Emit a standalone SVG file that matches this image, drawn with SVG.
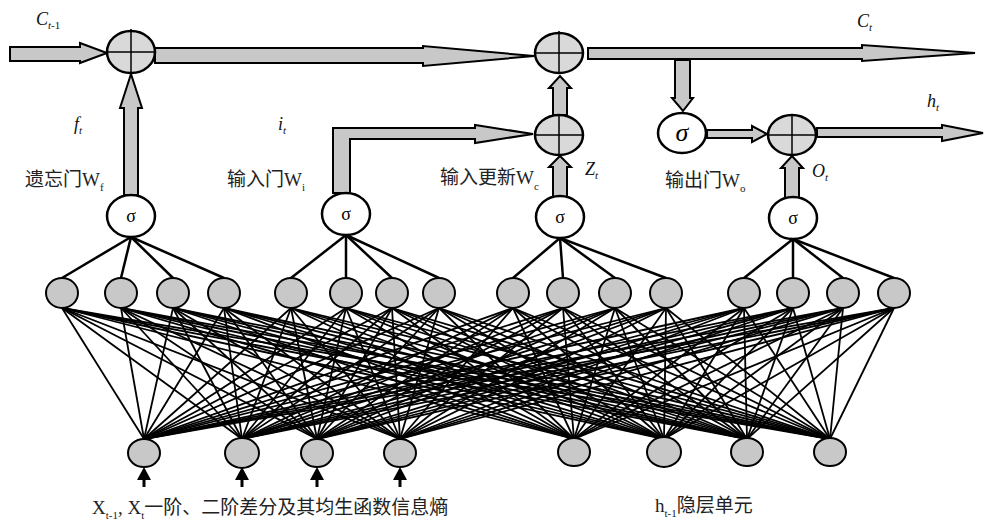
<svg xmlns="http://www.w3.org/2000/svg" width="985" height="525" viewBox="0 0 985 525">
<style>
.arr{fill:#c8c8c8;stroke:#000;stroke-width:2;stroke-linejoin:miter}
.plus{fill:#d9d9d9;stroke:#000;stroke-width:2.5}
.cross{stroke:#000;stroke-width:1.5}
.sig{fill:#fff;stroke:#000;stroke-width:2.5}
.hid{fill:#c8c8c8;stroke:#000;stroke-width:2}
.net line{stroke:#000;stroke-width:1.8}
.gl line{stroke:#000;stroke-width:2.5}
.lb{font-family:"Liberation Serif","Noto Sans CJK SC",serif;font-size:19px;fill:#222}
.it{font-family:"Liberation Serif",serif;font-style:italic;font-size:18px;fill:#111}
.sub{font-size:11px}
.st{font-family:"Liberation Serif",serif;font-size:18px;text-anchor:middle}
.stbig{font-family:"Liberation Serif",serif;font-size:26px;font-style:italic;text-anchor:middle}
</style>
<defs>
<polygon id="smallArrow" points="-7,480 0,467 7,480" fill="#000"/>
</defs>
<g id="connectors">
<g class="net" id="network">
<line x1="144" y1="439" x2="62" y2="308"/><line x1="144" y1="439" x2="121" y2="308"/><line x1="144" y1="439" x2="173" y2="308"/><line x1="144" y1="439" x2="224" y2="308"/><line x1="144" y1="439" x2="291" y2="308"/><line x1="144" y1="439" x2="346" y2="308"/><line x1="144" y1="439" x2="392" y2="308"/><line x1="144" y1="439" x2="439" y2="308"/><line x1="144" y1="439" x2="513" y2="308"/><line x1="144" y1="439" x2="563" y2="308"/><line x1="144" y1="439" x2="615" y2="308"/><line x1="144" y1="439" x2="666" y2="308"/><line x1="144" y1="439" x2="744" y2="308"/><line x1="144" y1="439" x2="793" y2="308"/><line x1="144" y1="439" x2="843" y2="308"/><line x1="144" y1="439" x2="894" y2="308"/>
<line x1="242" y1="439" x2="62" y2="308"/><line x1="242" y1="439" x2="121" y2="308"/><line x1="242" y1="439" x2="173" y2="308"/><line x1="242" y1="439" x2="224" y2="308"/><line x1="242" y1="439" x2="291" y2="308"/><line x1="242" y1="439" x2="346" y2="308"/><line x1="242" y1="439" x2="392" y2="308"/><line x1="242" y1="439" x2="439" y2="308"/><line x1="242" y1="439" x2="513" y2="308"/><line x1="242" y1="439" x2="563" y2="308"/><line x1="242" y1="439" x2="615" y2="308"/><line x1="242" y1="439" x2="666" y2="308"/><line x1="242" y1="439" x2="744" y2="308"/><line x1="242" y1="439" x2="793" y2="308"/><line x1="242" y1="439" x2="843" y2="308"/><line x1="242" y1="439" x2="894" y2="308"/>
<line x1="317" y1="439" x2="62" y2="308"/><line x1="317" y1="439" x2="121" y2="308"/><line x1="317" y1="439" x2="173" y2="308"/><line x1="317" y1="439" x2="224" y2="308"/><line x1="317" y1="439" x2="291" y2="308"/><line x1="317" y1="439" x2="346" y2="308"/><line x1="317" y1="439" x2="392" y2="308"/><line x1="317" y1="439" x2="439" y2="308"/><line x1="317" y1="439" x2="513" y2="308"/><line x1="317" y1="439" x2="563" y2="308"/><line x1="317" y1="439" x2="615" y2="308"/><line x1="317" y1="439" x2="666" y2="308"/><line x1="317" y1="439" x2="744" y2="308"/><line x1="317" y1="439" x2="793" y2="308"/><line x1="317" y1="439" x2="843" y2="308"/><line x1="317" y1="439" x2="894" y2="308"/>
<line x1="400" y1="439" x2="62" y2="308"/><line x1="400" y1="439" x2="121" y2="308"/><line x1="400" y1="439" x2="173" y2="308"/><line x1="400" y1="439" x2="224" y2="308"/><line x1="400" y1="439" x2="291" y2="308"/><line x1="400" y1="439" x2="346" y2="308"/><line x1="400" y1="439" x2="392" y2="308"/><line x1="400" y1="439" x2="439" y2="308"/><line x1="400" y1="439" x2="513" y2="308"/><line x1="400" y1="439" x2="563" y2="308"/><line x1="400" y1="439" x2="615" y2="308"/><line x1="400" y1="439" x2="666" y2="308"/><line x1="400" y1="439" x2="744" y2="308"/><line x1="400" y1="439" x2="793" y2="308"/><line x1="400" y1="439" x2="843" y2="308"/><line x1="400" y1="439" x2="894" y2="308"/>
<line x1="574" y1="439" x2="62" y2="308"/><line x1="574" y1="439" x2="121" y2="308"/><line x1="574" y1="439" x2="173" y2="308"/><line x1="574" y1="439" x2="224" y2="308"/><line x1="574" y1="439" x2="291" y2="308"/><line x1="574" y1="439" x2="346" y2="308"/><line x1="574" y1="439" x2="392" y2="308"/><line x1="574" y1="439" x2="439" y2="308"/><line x1="574" y1="439" x2="513" y2="308"/><line x1="574" y1="439" x2="563" y2="308"/><line x1="574" y1="439" x2="615" y2="308"/><line x1="574" y1="439" x2="666" y2="308"/><line x1="574" y1="439" x2="744" y2="308"/><line x1="574" y1="439" x2="793" y2="308"/><line x1="574" y1="439" x2="843" y2="308"/><line x1="574" y1="439" x2="894" y2="308"/>
<line x1="664" y1="439" x2="62" y2="308"/><line x1="664" y1="439" x2="121" y2="308"/><line x1="664" y1="439" x2="173" y2="308"/><line x1="664" y1="439" x2="224" y2="308"/><line x1="664" y1="439" x2="291" y2="308"/><line x1="664" y1="439" x2="346" y2="308"/><line x1="664" y1="439" x2="392" y2="308"/><line x1="664" y1="439" x2="439" y2="308"/><line x1="664" y1="439" x2="513" y2="308"/><line x1="664" y1="439" x2="563" y2="308"/><line x1="664" y1="439" x2="615" y2="308"/><line x1="664" y1="439" x2="666" y2="308"/><line x1="664" y1="439" x2="744" y2="308"/><line x1="664" y1="439" x2="793" y2="308"/><line x1="664" y1="439" x2="843" y2="308"/><line x1="664" y1="439" x2="894" y2="308"/>
<line x1="747" y1="439" x2="62" y2="308"/><line x1="747" y1="439" x2="121" y2="308"/><line x1="747" y1="439" x2="173" y2="308"/><line x1="747" y1="439" x2="224" y2="308"/><line x1="747" y1="439" x2="291" y2="308"/><line x1="747" y1="439" x2="346" y2="308"/><line x1="747" y1="439" x2="392" y2="308"/><line x1="747" y1="439" x2="439" y2="308"/><line x1="747" y1="439" x2="513" y2="308"/><line x1="747" y1="439" x2="563" y2="308"/><line x1="747" y1="439" x2="615" y2="308"/><line x1="747" y1="439" x2="666" y2="308"/><line x1="747" y1="439" x2="744" y2="308"/><line x1="747" y1="439" x2="793" y2="308"/><line x1="747" y1="439" x2="843" y2="308"/><line x1="747" y1="439" x2="894" y2="308"/>
<line x1="830" y1="439" x2="62" y2="308"/><line x1="830" y1="439" x2="121" y2="308"/><line x1="830" y1="439" x2="173" y2="308"/><line x1="830" y1="439" x2="224" y2="308"/><line x1="830" y1="439" x2="291" y2="308"/><line x1="830" y1="439" x2="346" y2="308"/><line x1="830" y1="439" x2="392" y2="308"/><line x1="830" y1="439" x2="439" y2="308"/><line x1="830" y1="439" x2="513" y2="308"/><line x1="830" y1="439" x2="563" y2="308"/><line x1="830" y1="439" x2="615" y2="308"/><line x1="830" y1="439" x2="666" y2="308"/><line x1="830" y1="439" x2="744" y2="308"/><line x1="830" y1="439" x2="793" y2="308"/><line x1="830" y1="439" x2="843" y2="308"/><line x1="830" y1="439" x2="894" y2="308"/>
</g>
<g class="gl" id="gate-links">
<line x1="131" y1="237" x2="62" y2="278"/><line x1="131" y1="237" x2="121" y2="278"/><line x1="131" y1="237" x2="173" y2="278"/><line x1="131" y1="237" x2="224" y2="278"/>
<line x1="346" y1="235" x2="291" y2="278"/><line x1="346" y1="235" x2="346" y2="278"/><line x1="346" y1="235" x2="392" y2="278"/><line x1="346" y1="235" x2="439" y2="278"/>
<line x1="560" y1="238" x2="513" y2="278"/><line x1="560" y1="238" x2="563" y2="278"/><line x1="560" y1="238" x2="615" y2="278"/><line x1="560" y1="238" x2="666" y2="278"/>
<line x1="793" y1="239" x2="744" y2="278"/><line x1="793" y1="239" x2="793" y2="278"/><line x1="793" y1="239" x2="843" y2="278"/><line x1="793" y1="239" x2="894" y2="278"/>
</g>
<g id="block-arrows">
<polygon class="arr" points="10,47 80,47 80,43 107,53 80,63 80,61 10,61"/>
<polygon class="arr" points="155,48 423,48 423,46 534,56 423,66 423,63 155,63"/>
<polygon class="arr" points="588,48 862,48 862,45 975,53 862,61 862,59 588,59"/>
<polygon class="arr" points="675,60 690,60 690,98 693,98 683,111 672,98 675,98"/>
<polygon class="arr" points="707,130 752,130 752,126 767,134 752,142 752,138 707,138"/>
<polygon class="arr" points="817,128 942,128 942,125 983,133 942,141 942,137 817,137"/>
<polygon class="arr" points="785,198 785,168 781,168 792,156 803,168 799,168 799,198"/>
<polygon class="arr" points="553,197 553,167 549,167 560,156 571,167 567,167 567,197"/>
<polygon class="arr" points="553,115 553,88 549,88 560,76 571,88 567,88 567,115"/>
<polygon class="arr" points="124,195 124,108 120,108 131,74 142,108 138,108 138,195"/>
<polygon class="arr" points="333,193 333,128 475,128 475,125 533,134 475,143 475,139 350,139 350,193"/>
</g>
<g id="input-arrows">
<line x1="144" y1="478" x2="144" y2="487" stroke="#000" stroke-width="3"/><use href="#smallArrow" x="144"/>
<line x1="242" y1="478" x2="242" y2="487" stroke="#000" stroke-width="3"/><use href="#smallArrow" x="242"/>
<line x1="317" y1="478" x2="317" y2="487" stroke="#000" stroke-width="3"/><use href="#smallArrow" x="317"/>
<line x1="400" y1="478" x2="400" y2="487" stroke="#000" stroke-width="3"/><use href="#smallArrow" x="400"/>
</g>
</g>
<g id="plus-forget"><ellipse class="plus" cx="131" cy="52" rx="24" ry="21"/><line class="cross" x1="131" y1="29" x2="131" y2="73"/><line class="cross" x1="107" y1="52" x2="155" y2="52"/></g>
<g id="plus-cell"><ellipse class="plus" cx="559" cy="53" rx="24" ry="20"/><line class="cross" x1="559" y1="31" x2="559" y2="73"/><line class="cross" x1="535" y1="53" x2="583" y2="53"/></g>
<g id="plus-input"><ellipse class="plus" cx="559" cy="135" rx="24" ry="20"/><line class="cross" x1="559" y1="114" x2="559" y2="155"/><line class="cross" x1="535" y1="135" x2="583" y2="135"/></g>
<g id="plus-output"><ellipse class="plus" cx="792" cy="135" rx="24" ry="20"/><line class="cross" x1="792" y1="114" x2="792" y2="155"/><line class="cross" x1="768" y1="135" x2="816" y2="135"/></g>
<g id="sigma-out"><ellipse class="sig" cx="682" cy="133" rx="24" ry="20"/><text x="682" y="141" class="stbig">σ</text></g>
<g id="sigma-f"><ellipse class="sig" cx="131" cy="216" rx="24" ry="21"/><text x="131" y="222" class="st">σ</text></g>
<g id="sigma-i"><ellipse class="sig" cx="346" cy="214" rx="24" ry="21"/><text x="346" y="220" class="st">σ</text></g>
<g id="sigma-c"><ellipse class="sig" cx="560" cy="217" rx="24" ry="21"/><text x="560" y="223" class="st">σ</text></g>
<g id="sigma-o"><ellipse class="sig" cx="793" cy="218" rx="24" ry="21"/><text x="793" y="224" class="st">σ</text></g>
<g id="hidden-nodes">
<ellipse class="hid" cx="62" cy="293" rx="16" ry="15"/><ellipse class="hid" cx="121" cy="293" rx="16" ry="15"/><ellipse class="hid" cx="173" cy="293" rx="16" ry="15"/><ellipse class="hid" cx="224" cy="293" rx="16" ry="15"/>
<ellipse class="hid" cx="291" cy="293" rx="16" ry="15"/><ellipse class="hid" cx="346" cy="293" rx="16" ry="15"/><ellipse class="hid" cx="392" cy="293" rx="16" ry="15"/><ellipse class="hid" cx="439" cy="293" rx="16" ry="15"/>
<ellipse class="hid" cx="513" cy="293" rx="16" ry="15"/><ellipse class="hid" cx="563" cy="293" rx="16" ry="15"/><ellipse class="hid" cx="615" cy="293" rx="16" ry="15"/><ellipse class="hid" cx="666" cy="293" rx="16" ry="15"/>
<ellipse class="hid" cx="744" cy="293" rx="16" ry="15"/><ellipse class="hid" cx="793" cy="293" rx="16" ry="15"/><ellipse class="hid" cx="843" cy="293" rx="16" ry="15"/><ellipse class="hid" cx="894" cy="293" rx="16" ry="15"/>
</g>
<g id="input-nodes">
<ellipse class="hid" cx="144" cy="453" rx="16" ry="14"/><ellipse class="hid" cx="242" cy="453" rx="17" ry="15"/><ellipse class="hid" cx="317" cy="453" rx="16" ry="14"/><ellipse class="hid" cx="400" cy="453" rx="16" ry="14"/>
</g>
<g id="hprev-nodes">
<ellipse class="hid" cx="574" cy="452" rx="16" ry="14"/><ellipse class="hid" cx="664" cy="452" rx="17" ry="15"/><ellipse class="hid" cx="747" cy="452" rx="16" ry="14"/><ellipse class="hid" cx="830" cy="452" rx="16" ry="14"/>
</g>
<g id="labels">
<text class="it" x="36" y="25">C<tspan class="sub" dy="4">t</tspan><tspan class="sub" font-style="normal">-1</tspan></text>
<text class="it" x="74" y="130">f<tspan class="sub" dy="4">t</tspan></text>
<text class="it" x="278" y="130">i<tspan class="sub" dy="4">t</tspan></text>
<text class="lb" x="25" y="186">遗忘门W<tspan class="sub" dy="5">f</tspan></text>
<text class="lb" x="227" y="186">输入门W<tspan class="sub" dy="5">i</tspan></text>
<text class="lb" x="440" y="184">输入更新W<tspan class="sub" dy="6">c</tspan></text>
<text class="it" x="585" y="175">Z<tspan class="sub" dy="4">t</tspan></text>
<text class="lb" x="665" y="187">输出门W<tspan class="sub" dy="5">o</tspan></text>
<text class="it" x="812" y="177">O<tspan class="sub" dy="4">t</tspan></text>
<text class="it" x="857" y="27">C<tspan class="sub" dy="4">t</tspan></text>
<text class="it" x="927" y="107">h<tspan class="sub" dy="4">t</tspan></text>
<text class="lb" x="92" y="514">X<tspan class="sub" dy="5">t-1</tspan><tspan dy="-5">, X</tspan><tspan class="sub" dy="5">t</tspan><tspan dy="-5">一阶、二阶差分及其均生函数信息熵</tspan></text>
<text class="lb" x="655" y="512">h<tspan class="sub" dy="5">t-1</tspan><tspan dy="-5">隐层单元</tspan></text>
</g>
</svg>
